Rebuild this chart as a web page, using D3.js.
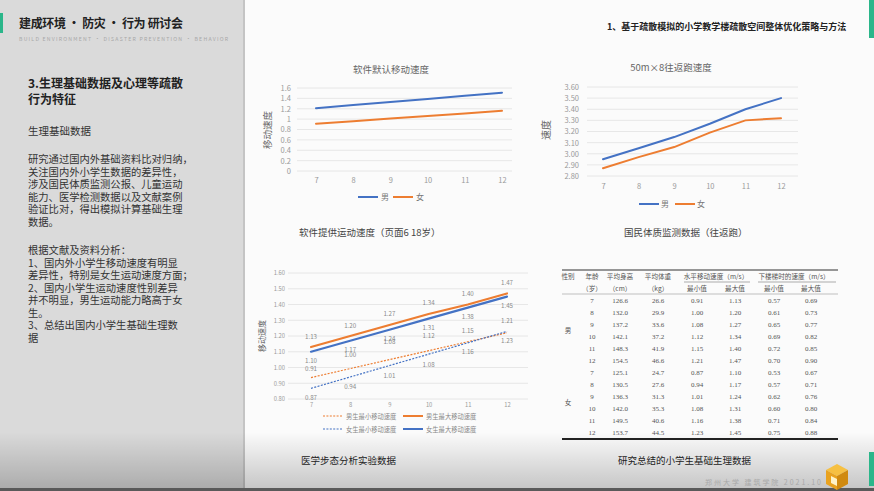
<!DOCTYPE html>
<html><head><meta charset="utf-8">
<script src="https://cdn.jsdelivr.net/npm/d3@7/dist/d3.min.js"></script>
<style>html,body{margin:0;padding:0;background:#fff;}svg{display:block;}</style>
</head><body>
<svg id="c" width="874" height="491"></svg>
<script>
// ---------- data ----------
const ages = [7, 8, 9, 10, 11, 12];
const seriesNames = ["男", "女"];
const softMale = [1.21, 1.27, 1.33, 1.39, 1.45, 1.51];
const softFemale = [0.91, 0.96, 1.01, 1.06, 1.11, 1.16];
const softTicks = [0, 0.2, 0.4, 0.6, 0.8, 1, 1.2, 1.4, 1.6];
const runMale = [2.95, 3.05, 3.15, 3.27, 3.40, 3.50];
const runFemale = [2.87, 2.97, 3.06, 3.19, 3.30, 3.32];
const runTicks = [2.8, 2.9, 3.0, 3.1, 3.2, 3.3, 3.4, 3.5, 3.6];
const medNames = ["男生最小移动速度", "男生最大移动速度", "女生最小移动速度", "女生最大移动速度"];
const medMaleMin = [0.91, 1.00, 1.08, 1.12, 1.15, 1.21];
const medMaleMax = [1.13, 1.20, 1.27, 1.34, 1.40, 1.47];
const medFemaleMin = [0.87, 0.94, 1.01, 1.08, 1.16, 1.23];
const medFemaleMax = [1.10, 1.17, 1.24, 1.31, 1.38, 1.45];
const medTicks = [0.8, 0.9, 1.0, 1.1, 1.2, 1.3, 1.4, 1.5, 1.6];
const tblGender = ["男", "女"];
const tblHeight = [[126.6,132.0,137.2,142.1,148.3,154.5],[125.1,130.5,136.3,142.0,149.5,153.7]];
const tblWeight = [[26.6,29.9,33.6,37.2,41.9,46.6],[24.7,27.6,31.3,35.3,40.6,44.5]];
const tblHMin = [[0.91,1.00,1.08,1.12,1.15,1.21],[0.87,0.94,1.01,1.08,1.16,1.23]];
const tblHMax = [[1.13,1.20,1.27,1.34,1.40,1.47],[1.10,1.17,1.24,1.31,1.38,1.45]];
const tblSMin = [[0.57,0.61,0.65,0.69,0.72,0.70],[0.53,0.57,0.62,0.60,0.71,0.75]];
const tblSMax = [[0.69,0.73,0.77,0.82,0.85,0.90],[0.67,0.71,0.76,0.80,0.84,0.88]];

const FONT = "'Noto Sans CJK SC','Noto Sans',sans-serif";
const BLUE = "#4472C4", ORANGE = "#ED7D31";
const svg = d3.select("#c").style("font-family", FONT);

// ---------- background ----------
const defs = svg.append("defs");
const g1 = defs.append("linearGradient").attr("id","bot").attr("x1",0).attr("y1",0).attr("x2",0).attr("y2",1);
g1.append("stop").attr("offset","0%").attr("stop-color","#000").attr("stop-opacity",0);
g1.append("stop").attr("offset","100%").attr("stop-color","#000").attr("stop-opacity",0.22);
svg.append("rect").attr("x",0).attr("y",0).attr("width",874).attr("height",491).attr("fill","#fbfbfb");
svg.append("rect").attr("x",0).attr("y",0).attr("width",244).attr("height",491).attr("fill","#dadada");
svg.append("rect").attr("x",243).attr("y",0).attr("width",2).attr("height",491).attr("fill","#c4c4c4");
svg.append("rect").attr("x",0).attr("y",432).attr("width",874).attr("height",59).attr("fill","url(#bot)");
svg.append("rect").attr("x",0).attr("y",488).attr("width",874).attr("height",3).attr("fill","#5a5a5a");
svg.append("rect").attr("x",0).attr("y",13).attr("width",3).attr("height",20).attr("fill","#2bb68a");
svg.append("rect").attr("x",869).attr("y",0).attr("width",5).attr("height",38).attr("fill","#2bb68a");
svg.append("rect").attr("x",869).attr("y",452).attr("width",5).attr("height",34).attr("fill","#2bb68a");

// ---------- left panel text ----------
svg.append("text").attr("x",19).attr("y",28).attr("font-size",12).attr("font-weight","bold").attr("fill","#222")
  .attr("textLength",164).attr("lengthAdjust","spacing").text("建成环境 · 防灾 · 行为 研讨会");
svg.append("text").attr("x",19).attr("y",41).attr("font-size",5.2).attr("fill","#a8a8a8")
  .attr("textLength",209).attr("lengthAdjust","spacing").text("BUILD ENVIRONMENT · DISASTER PREVENTION · BEHAVIOR");
svg.append("text").attr("x",28).attr("y",88).attr("font-size",12).attr("font-weight","bold").attr("fill","#222").text("3.生理基础数据及心理等疏散");
svg.append("text").attr("x",28).attr("y",104).attr("font-size",12).attr("font-weight","bold").attr("fill","#222").text("行为特征");
svg.append("text").attr("x",28).attr("y",135).attr("font-size",10.5).attr("fill","#333").text("生理基础数据");
const para1 = ["研究通过国内外基础资料比对归纳，","关注国内外小学生数据的差异性，","涉及国民体质监测公报、儿童运动","能力、医学检测数据以及文献案例","验证比对，得出模拟计算基础生理","数据。"];
const para2 = ["根据文献及资料分析：","1、国内外小学生移动速度有明显","差异性，特别是女生运动速度方面；","2、国内小学生运动速度性别差异","并不明显，男生运动能力略高于女","生。","3、总结出国内小学生基础生理数","据"];
para1.forEach((t,i)=>svg.append("text").attr("x",28).attr("y",163+i*12.5).attr("font-size",10.3).attr("fill","#333").text(t));
para2.forEach((t,i)=>svg.append("text").attr("x",28).attr("y",254+i*12.5).attr("font-size",10.3).attr("fill","#333").text(t));

// ---------- right header ----------
svg.append("text").attr("x",607).attr("y",30).attr("font-size",9).attr("font-weight","bold").attr("fill","#222")
  .text("1、基于疏散模拟的小学教学楼疏散空间整体优化策略与方法");

// least-squares linear trend of a series against ages
function trend(v){
  const mx = d3.mean(ages), my = d3.mean(v);
  const sxy = d3.sum(ages, (a,i)=>(a-mx)*(v[i]-my)), sxx = d3.sum(ages, a=>(a-mx)*(a-mx));
  const b = sxy/sxx, a0 = my - b*mx;
  return ages.map(a=>a0 + b*a);
}

// ---------- line chart helper ----------
function lineChart(o){
  const g = svg.append("g");
  const x = d3.scalePoint().domain(ages).range(o.xr);
  const y = d3.scaleLinear().domain(o.yd).range(o.yr);
  g.selectAll(".gl").data(o.ticks).join("line")
    .attr("x1",o.gx[0]).attr("x2",o.gx[1]).attr("y1",d=>y(d)).attr("y2",d=>y(d))
    .attr("stroke","#e2e2e2").attr("stroke-width",0.8);
  const ya = d3.axisLeft(y).tickValues(o.ticks).tickFormat(o.fmt).tickSize(0).tickPadding(0);
  const yg = g.append("g").attr("transform",`translate(${o.ylx},0)`).call(ya);
  yg.select(".domain").remove();
  yg.selectAll("text").attr("font-size",o.tfs).attr("fill","#9a9a9a").attr("font-family",FONT);
  const xa = d3.axisBottom(x).tickSize(0).tickPadding(0);
  const xg = g.append("g").attr("transform",`translate(0,${o.xly})`).call(xa);
  xg.select(".domain").remove();
  xg.selectAll("text").attr("font-size",o.tfs).attr("fill","#9a9a9a").attr("font-family",FONT);
  const ln = d3.line().x((d,i)=>x(ages[i])).y(d=>y(d));
  o.series.forEach(s=>{
    const path = s.trend ? trend(s.v) : s.v;
    g.append("path").attr("d",ln(path)).attr("fill","none").attr("stroke",s.c)
      .attr("stroke-width",s.w||2).attr("stroke-dasharray",s.dash||null).attr("stroke-linecap",s.dash?"butt":"round");
    if(s.lab!==undefined){
      g.selectAll(null).data(s.v).join("text")
        .attr("x",(d,i)=>x(ages[i])).attr("y",d=>y(d)+s.lab).attr("text-anchor","middle")
        .attr("font-size",6.2).attr("fill","#8a8a8a").text(d=>d.toFixed(2));
    }
  });
  if(o.title) g.append("text").attr("x",o.title[1]).attr("y",o.title[2]).attr("text-anchor","middle")
    .attr("font-size",9.5).attr("fill","#666").text(o.title[0]);
  g.append("text").attr("transform",`translate(${o.yt[1]},${o.yt[2]}) rotate(-90)`).attr("text-anchor","middle")
    .attr("font-size",o.ytfs||9.5).attr("fill","#666").text(o.yt[0]);
  return {g,x,y};
}

// top-left
lineChart({xr:[316,502], yd:[0,1.6], yr:[171,88], ticks:softTicks, fmt:d=>d3.format("")(+d.toFixed(1)),
  gx:[297,512], ylx:291, xly:178, tfs:7.5, title:["软件默认移动速度",391,73], yt:["移动速度",271,130],
  series:[{v:softMale,c:BLUE},{v:softFemale,c:ORANGE}]});
[[358,BLUE,seriesNames[0]],[393,ORANGE,seriesNames[1]]].forEach(([lx,c,t])=>{
  svg.append("line").attr("x1",lx).attr("x2",lx+20).attr("y1",197).attr("y2",197).attr("stroke",c).attr("stroke-width",2);
  svg.append("text").attr("x",lx+23).attr("y",200).attr("font-size",8).attr("fill","#777").text(t);
});

// top-right
lineChart({xr:[603,781], yd:[2.8,3.6], yr:[176,87], ticks:runTicks, fmt:d3.format(".2f"),
  gx:[587,798], ylx:579, xly:184, tfs:7.5, title:["50m×8往返跑速度",671,71], yt:["速度",550,130], ytfs:10,
  series:[{v:runMale,c:BLUE},{v:runFemale,c:ORANGE}]});
[[639,BLUE,seriesNames[0]],[675,ORANGE,seriesNames[1]]].forEach(([lx,c,t])=>{
  svg.append("line").attr("x1",lx).attr("x2",lx+20).attr("y1",204).attr("y2",204).attr("stroke",c).attr("stroke-width",2);
  svg.append("text").attr("x",lx+22).attr("y",207).attr("font-size",8).attr("fill","#777").text(t);
});

// bottom-left (min series shown as dotted linear trend lines, as in the source)
lineChart({xr:[311,507], yd:[0.8,1.6], yr:[399,273], ticks:medTicks, fmt:d3.format(".2f"),
  gx:[288,528], ylx:285, xly:403, tfs:5.8, yt:["移动速度",265,336], ytfs:8,
  series:[
    {v:medMaleMin,c:ORANGE,w:1.2,dash:"2,1.4",lab:-11,trend:true},
    {v:medFemaleMin,c:BLUE,w:1.2,dash:"2,1.4",lab:12,trend:true},
    {v:medMaleMax,c:ORANGE,w:2.2,lab:-8.5},
    {v:medFemaleMax,c:BLUE,w:2.2,lab:11}
  ]});
[[323,416,ORANGE,"2,1.4",1.2,medNames[0]],[403,416,ORANGE,null,2,medNames[1]],
 [323,429,BLUE,"2,1.4",1.2,medNames[2]],[403,429,BLUE,null,2,medNames[3]]].forEach(([lx,ly,c,d,w,t])=>{
  svg.append("line").attr("x1",lx).attr("x2",lx+20).attr("y1",ly).attr("y2",ly).attr("stroke",c).attr("stroke-width",w).attr("stroke-dasharray",d);
  svg.append("text").attr("x",lx+23).attr("y",ly+2.5).attr("font-size",6.3).attr("fill","#888").text(t);
});

// ---------- captions ----------
svg.append("text").attr("x",299).attr("y",236).attr("font-size",9.5).attr("fill","#444").text("软件提供运动速度（页面6  18岁）");
svg.append("text").attr("x",624).attr("y",236).attr("font-size",9.5).attr("fill","#444").text("国民体质监测数据（往返跑）");
svg.append("text").attr("x",301).attr("y",464).attr("font-size",9.5).attr("fill","#222").text("医学步态分析实验数据");
svg.append("text").attr("x",618).attr("y",464).attr("font-size",9.5).attr("fill","#222").text("研究总结的小学生基础生理数据");
svg.append("text").attr("x",705).attr("y",485).attr("font-size",7).attr("fill","#a9a9a9")
  .attr("textLength",116).attr("lengthAdjust","spacing").text("郑州大学 建筑学院 2021.10");
const lg = svg.append("g").attr("transform","translate(826,464)");
lg.append("path").attr("d","M0,6 L11,0 L22,6 L11,12 Z").attr("fill","#f6c042");
lg.append("path").attr("d","M0,6 L11,12 L11,26 L0,20 Z").attr("fill","#e9a21f");
lg.append("path").attr("d","M11,12 L22,6 L22,20 L11,26 Z").attr("fill","#d08a10");
lg.append("path").attr("d","M5,12 L11,15 L11,22 L5,19 Z").attr("fill","#fff3c8");

// ---------- table ----------
const colX = [568, 592, 620, 658, 697, 735, 774, 811];
const tf = "'Liberation Serif','Noto Sans CJK SC',serif";
const tg = svg.append("g").attr("font-size",6.6).attr("fill","#555");
tg.append("line").attr("x1",562).attr("x2",838).attr("y1",270).attr("y2",270).attr("stroke","#333").attr("stroke-width",1.2);
tg.append("line").attr("x1",684).attr("x2",750).attr("y1",282).attr("y2",282).attr("stroke","#777").attr("stroke-width",0.6);
tg.append("line").attr("x1",758).attr("x2",836).attr("y1",282).attr("y2",282).attr("stroke","#777").attr("stroke-width",0.6);
tg.append("line").attr("x1",562).attr("x2",838).attr("y1",294).attr("y2",294).attr("stroke","#999").attr("stroke-width",0.6);
tg.append("line").attr("x1",562).attr("x2",838).attr("y1",439).attr("y2",439).attr("stroke","#222").attr("stroke-width",1.8);
const hdr1 = [["性别",colX[0]],["年龄",colX[1]],["平均身高",colX[2]],["平均体重",colX[3]],["水平移动速度（m/s）",716],["下楼梯时的速度（m/s）",794]];
const hdr2 = [["（岁）",colX[1]],["（cm）",colX[2]],["（kg）",colX[3]],["最小值",colX[4]],["最大值",colX[5]],["最小值",colX[6]],["最大值",colX[7]]];
hdr1.forEach(([t,x])=>tg.append("text").attr("x",x).attr("y",279).attr("text-anchor","middle").text(t));
hdr2.forEach(([t,x])=>tg.append("text").attr("x",x).attr("y",291).attr("text-anchor","middle").text(t));
tblGender.forEach((gname,gi)=>{
  const base = 302.5 + gi*72;
  tg.append("text").attr("x",colX[0]).attr("y",base+30).attr("text-anchor","middle").text(gname);
  ages.forEach((a,ri)=>{
    const yy = base + ri*12;
    const vals = [String(a), tblHeight[gi][ri].toFixed(1), tblWeight[gi][ri].toFixed(1),
      tblHMin[gi][ri].toFixed(2), tblHMax[gi][ri].toFixed(2), tblSMin[gi][ri].toFixed(2), tblSMax[gi][ri].toFixed(2)];
    vals.forEach((v,ci)=>tg.append("text").attr("x",colX[ci+1]).attr("y",yy).attr("text-anchor","middle")
      .attr("font-family",tf).attr("font-size",7).text(v));
  });
});
</script>
</body></html>
